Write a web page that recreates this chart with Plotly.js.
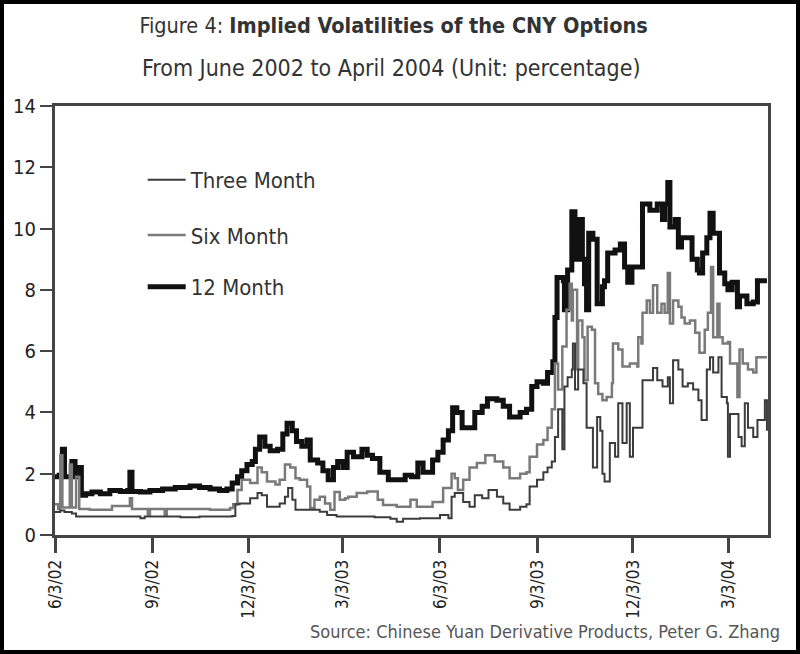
<!DOCTYPE html>
<html>
<head>
<meta charset="utf-8">
<script src="https://cdn.plot.ly/plotly-3.0.1.min.js"></script>
<style>
  html, body { margin: 0; padding: 0; background: #fff; }
  #chart { width: 800px; height: 654px; }
</style>
</head>
<body>
<div id="chart"></div>
<script>
// 12-month implied volatility (%)
const dates12 = ['2002-06-03','2002-06-07','2002-06-10','2002-06-12','2002-06-17','2002-06-19','2002-06-22','2002-06-24','2002-06-28','2002-07-02',
  '2002-07-08','2002-07-16','2002-07-25','2002-08-04','2002-08-11','2002-08-13','2002-08-15','2002-08-23','2002-09-01','2002-09-13',
  '2002-09-25','2002-10-09','2002-10-18','2002-10-28','2002-11-06','2002-11-13','2002-11-18','2002-11-23','2002-11-27','2002-12-02',
  '2002-12-07','2002-12-10','2002-12-14','2002-12-19','2002-12-24','2002-12-31','2003-01-05','2003-01-09','2003-01-14','2003-01-18',
  '2003-01-23','2003-01-28','2003-01-31','2003-02-07','2003-02-12','2003-02-17','2003-02-22','2003-02-26','2003-03-03','2003-03-07',
  '2003-03-13','2003-03-21','2003-03-26','2003-03-31','2003-04-07','2003-04-15','2003-04-23','2003-05-01','2003-05-07','2003-05-13',
  '2003-05-18','2003-05-27','2003-06-01','2003-06-06','2003-06-11','2003-06-15','2003-06-19','2003-06-24','2003-07-01','2003-07-06',
  '2003-07-13','2003-07-18','2003-07-27','2003-08-02','2003-08-08','2003-08-18','2003-08-24','2003-08-29','2003-09-03','2003-09-09',
  '2003-09-13','2003-09-18','2003-09-20','2003-09-22','2003-09-28','2003-09-29','2003-10-02','2003-10-06','2003-10-09','2003-10-12',
  '2003-10-16','2003-10-18','2003-10-20','2003-10-22','2003-10-26','2003-10-30','2003-11-04','2003-11-06','2003-11-09','2003-11-16',
  '2003-11-21','2003-11-25','2003-11-28','2003-12-02','2003-12-12','2003-12-19','2003-12-26','2003-12-31','2004-01-02','2004-01-05',
  '2004-01-07','2004-01-12','2004-01-15','2004-01-18','2004-01-28','2004-02-02','2004-02-04','2004-02-07','2004-02-11','2004-02-14',
  '2004-02-17','2004-02-23','2004-02-28','2004-03-02','2004-03-06','2004-03-11','2004-03-13','2004-03-20','2004-03-26','2004-03-30',
  '2004-04-08'];
const vol12 = [1.9,1.95,2.8,1.9,1.9,2.4,1.9,2.2,1.3,1.35,
  1.4,1.35,1.45,1.42,1.45,2.05,1.42,1.4,1.45,1.5,
  1.55,1.6,1.55,1.5,1.45,1.5,1.7,1.9,2.1,2.3,
  2.4,2.8,3.2,2.9,2.75,2.8,3.3,3.65,3.4,3.05,
  2.9,3.1,2.45,2.35,2.1,1.8,2.2,2.4,2.2,2.7,
  2.55,2.8,2.6,2.5,2.05,1.8,1.8,1.95,1.9,2.35,
  2.05,2.45,2.7,3.1,3.4,4.15,4.0,3.5,3.5,4.0,
  4.2,4.45,4.4,4.2,3.85,4.0,4.1,4.85,5.0,4.95,
  5.3,5.65,7.1,8.4,8.3,7.35,8.65,10.55,9.0,10.3,
  9.0,8.2,7.35,9.85,9.65,7.55,8.1,8.3,9.2,9.3,
  9.5,8.75,8.25,8.75,10.8,10.6,10.8,10.3,10.8,11.5,
  10.05,10.3,9.4,9.7,9.0,8.65,8.55,9.2,9.7,10.5,
  9.85,8.55,8.2,8.0,8.25,7.45,7.8,7.55,7.6,8.3,
  8.3];

// 6-month implied volatility (%)
const dates6 = ['2002-06-03','2002-06-06','2002-06-08','2002-06-10','2002-06-15','2002-06-17','2002-06-19','2002-06-23','2002-06-26','2002-07-06',
  '2002-07-27','2002-08-13','2002-08-15','2002-08-30','2002-09-01','2002-09-15','2002-09-17','2002-10-14','2002-10-28','2002-11-16',
  '2002-11-19','2002-11-23','2002-11-27','2002-12-05','2002-12-12','2002-12-16','2002-12-21','2002-12-29','2003-01-02','2003-01-07',
  '2003-01-12','2003-01-17','2003-01-21','2003-01-28','2003-01-31','2003-02-04','2003-02-09','2003-02-14','2003-02-19','2003-02-23',
  '2003-02-28','2003-03-05','2003-03-08','2003-03-16','2003-03-26','2003-04-05','2003-04-10','2003-04-23','2003-05-06','2003-05-12',
  '2003-05-27','2003-06-06','2003-06-14','2003-06-17','2003-06-20','2003-06-25','2003-07-01','2003-07-08','2003-07-16','2003-07-25',
  '2003-08-02','2003-08-08','2003-08-18','2003-08-24','2003-08-27','2003-09-03','2003-09-09','2003-09-13','2003-09-17','2003-09-20',
  '2003-09-23','2003-09-27','2003-10-01','2003-10-04','2003-10-06','2003-10-07','2003-10-11','2003-10-12','2003-10-16','2003-10-18',
  '2003-10-21','2003-10-25','2003-10-28','2003-10-31','2003-11-04','2003-11-08','2003-11-13','2003-11-14','2003-11-19','2003-11-23',
  '2003-11-30','2003-12-07','2003-12-08','2003-12-11','2003-12-12','2003-12-16','2003-12-19','2003-12-22','2003-12-26','2003-12-30',
  '2004-01-02','2004-01-05','2004-01-07','2004-01-10','2004-01-15','2004-01-18','2004-01-21','2004-01-26','2004-01-31','2004-02-04',
  '2004-02-09','2004-02-12','2004-02-15','2004-02-17','2004-02-21','2004-02-23','2004-02-26','2004-03-02','2004-03-04','2004-03-11',
  '2004-03-13','2004-03-16','2004-03-21','2004-03-26','2004-03-29','2004-04-08'];
const vol6 = [1.0,0.85,2.6,0.9,0.9,2.3,0.9,1.9,0.85,0.82,
  0.95,1.2,0.85,0.65,0.85,0.65,0.85,0.85,0.82,0.88,
  1.0,1.47,1.8,1.7,2.2,2.05,1.75,1.65,1.8,2.3,
  2.2,1.85,1.8,1.58,0.88,1.15,1.25,1.03,0.82,1.4,
  1.15,1.2,1.25,1.37,1.42,1.15,0.98,0.92,1.15,0.92,
  1.08,1.53,2.0,1.85,1.47,1.8,2.2,2.35,2.6,2.4,
  2.2,1.85,2.0,2.05,2.55,2.95,3.1,3.5,4.1,5.6,
  4.75,6.15,7.35,8.2,7.0,8.0,5.4,7.0,6.45,5.05,
  6.8,6.7,4.95,4.6,4.4,4.5,4.95,6.25,6.05,5.5,
  5.6,5.5,6.45,6.25,7.25,7.65,7.25,8.15,7.25,7.55,
  7.25,8.55,6.9,7.65,7.45,7.1,6.9,7.0,6.6,5.95,
  6.7,7.25,8.75,6.45,7.55,6.45,6.25,6.3,5.6,4.5,
  6.05,5.6,5.4,5.3,5.8,5.8];

// 3-month implied volatility (%)
const dates3 = ['2002-06-03','2002-06-08','2002-06-12','2002-06-19','2002-06-23','2002-08-23','2002-08-27','2002-09-30','2002-10-18','2002-11-18',
  '2002-11-21','2002-11-25','2002-12-05','2002-12-12','2002-12-16','2002-12-21','2003-01-02','2003-01-07','2003-01-10','2003-01-14',
  '2003-01-17','2003-02-09','2003-02-16','2003-02-25','2003-04-02','2003-04-17','2003-04-23','2003-04-29','2003-05-15','2003-06-03',
  '2003-06-11','2003-06-14','2003-06-17','2003-06-25','2003-07-01','2003-07-06','2003-07-13','2003-07-19','2003-07-27','2003-08-02',
  '2003-08-08','2003-08-18','2003-08-24','2003-08-27','2003-09-03','2003-09-09','2003-09-13','2003-09-17','2003-09-20','2003-09-23',
  '2003-09-27','2003-09-29','2003-10-02','2003-10-06','2003-10-07','2003-10-09','2003-10-12','2003-10-17','2003-10-20','2003-10-26',
  '2003-10-30','2003-11-02','2003-11-04','2003-11-06','2003-11-11','2003-11-16','2003-11-19','2003-11-23','2003-11-27','2003-11-30',
  '2003-12-03','2003-12-12','2003-12-22','2003-12-26','2003-12-31','2004-01-05','2004-01-07','2004-01-10','2004-01-15','2004-01-19',
  '2004-01-24','2004-01-29','2004-02-03','2004-02-06','2004-02-11','2004-02-14','2004-02-17','2004-02-22','2004-02-25','2004-03-01',
  '2004-03-02','2004-03-04','2004-03-12','2004-03-15','2004-03-18','2004-03-21','2004-03-26','2004-03-30','2004-04-06','2004-04-08'];
const vol3 = [0.75,0.8,0.75,0.7,0.6,0.55,0.6,0.58,0.6,0.62,
  1.0,1.03,1.2,1.37,1.3,0.92,1.03,1.25,1.53,1.15,
  0.82,0.76,0.65,0.6,0.58,0.53,0.43,0.53,0.55,0.65,
  0.55,1.25,1.37,1.08,0.92,1.3,1.2,1.47,1.25,1.03,
  0.82,0.92,1.0,1.58,1.8,2.05,2.2,2.4,3.2,4.1,
  2.8,4.85,5.15,5.4,6.25,4.75,5.4,4.95,3.5,2.2,
  3.85,3.4,2.0,1.75,3.0,2.55,4.3,3.0,4.3,2.55,
  3.5,5.05,5.45,5.05,4.85,5.15,4.3,5.7,5.4,4.85,
  4.95,4.75,4.4,3.75,5.4,5.8,5.3,5.8,4.5,4.3,
  2.55,3.95,3.2,2.9,4.3,3.5,3.2,3.75,4.4,3.4];

// Axis ticks
const tickDates = ['2002-06-03','2002-09-03','2002-12-03','2003-03-03','2003-06-03','2003-09-03','2003-12-03','2004-03-03'];
const tickLabels = ['6/3/02','9/3/02','12/3/02','3/3/03','6/3/03','9/3/03','12/3/03','3/3/04'];

const FONT = "'Liberation Sans Narrow', 'DejaVu Sans Condensed', 'Arial Narrow', sans-serif";

const traces = [
  { x: dates12, y: vol12, name: '12 Month', type: 'scatter', mode: 'lines',
    line: { color: '#111111', width: 5, shape: 'hv' }, legend: 'legend3' },
  { x: dates6, y: vol6, name: 'Six Month', type: 'scatter', mode: 'lines',
    line: { color: '#7a7a7a', width: 2.5, shape: 'hv' }, legend: 'legend2' },
  { x: dates3, y: vol3, name: 'Three Month', type: 'scatter', mode: 'lines',
    line: { color: '#3c3c3c', width: 2, shape: 'hv' }, legend: 'legend' }
];

function legendAt(y) {
  return {
    x: 0.123, y: y, xanchor: 'left', yanchor: 'middle',
    bgcolor: 'rgba(0,0,0,0)', borderwidth: 0, itemwidth: 38,
    font: { family: FONT, size: 22, color: '#333333' }
  };
}

const layout = {
  width: 800, height: 654,
  margin: { l: 55, r: 32, t: 106, b: 119 },
  paper_bgcolor: '#ffffff', plot_bgcolor: '#ffffff',
  font: { family: FONT, color: '#222222' },
  title: {
    text: 'Figure 4: <b>Implied Volatilities of the CNY Options</b>',
    x: 0.492, xanchor: 'center', y: 1 - 25 / 654, yanchor: 'middle',
    font: { family: FONT, size: 21.5, color: '#333333' }
  },
  showlegend: true,
  legend: legendAt(0.8275),
  legend2: legendAt(0.699),
  legend3: legendAt(0.578),
  xaxis: {
    type: 'date', range: ['2002-06-03', '2004-04-09'],
    tickmode: 'array', tickvals: tickDates, ticktext: tickLabels, tickangle: -90,
    ticks: 'outside', ticklen: 15, tickwidth: 3, tickcolor: '#444444',
    showline: true, linewidth: 3, linecolor: '#444444', mirror: true,
    showgrid: false, zeroline: false,
    tickfont: { family: FONT, size: 17, color: '#222222' }
  },
  yaxis: {
    range: [0, 14], tickmode: 'linear', tick0: 0, dtick: 2,
    ticks: 'outside', ticklen: 12, tickwidth: 2, tickcolor: '#444444',
    showline: true, linewidth: 3, linecolor: '#444444', mirror: true,
    showgrid: false, zeroline: false,
    tickfont: { family: FONT, size: 20, color: '#222222' }
  },
  annotations: [
    { text: 'From June 2002 to April 2004 (Unit: percentage)',
      xref: 'paper', yref: 'paper', x: 0.471, y: 1.0886, xanchor: 'center', yanchor: 'middle',
      showarrow: false, font: { family: FONT, size: 23, color: '#333333' } },
    { text: 'Source: Chinese Yuan Derivative Products, Peter G. Zhang',
      xref: 'paper', yref: 'paper', x: 1.0196, y: -0.226, xanchor: 'right', yanchor: 'middle',
      showarrow: false, font: { family: FONT, size: 18, color: '#555555' } }
  ],
  shapes: [
    { type: 'rect', xref: 'paper', yref: 'paper', layer: 'above',
      x0: -53 / 713, x1: 1 + 30 / 713, y0: -117 / 429, y1: 1 + 104 / 429,
      line: { color: '#000000', width: 4 }, fillcolor: 'rgba(0,0,0,0)' }
  ]
};

Plotly.newPlot('chart', traces, layout, { staticPlot: true, displayModeBar: false });
</script>
</body>
</html>
